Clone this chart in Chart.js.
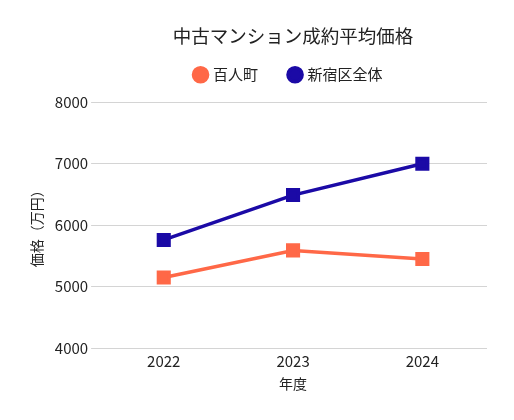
<!DOCTYPE html>
<html><head><meta charset="utf-8">
<script src="https://cdn.jsdelivr.net/npm/chart.js@4"></script>
<style>html,body{margin:0;padding:0;background:#fff}#wrap{width:514px;height:420px}</style>
</head><body><div id="wrap"><canvas id="c"></canvas></div>
<script>
const years = ['2022', '2023', '2024'];
const hyakuninchoValues = [5150, 5590, 5450];
const shinjukuValues = [5760, 6490, 7000];
const seriesNames = ['百人町', '新宿区全体'];
const titleText = '中古マンション成約平均価格';
const yTitle = '価格（万円）';
const xTitle = '年度';

const centerOverArea = {
  id: 'centerOverArea',
  afterLayout(chart) {
    const a = chart.chartArea;
    const t = chart.titleBlock;
    if (t) { t.left = a.left; t.right = a.right; t.width = a.right - a.left; }
    const l = chart.legend;
    if (l) {
      l.left = a.left - 4; l.right = a.right - 4; l.width = a.right - a.left;
      l.top -= 10; l.bottom -= 10;
    }
  }
};

Chart.defaults.font.family = '"Noto Sans CJK JP", "Noto Sans", sans-serif';
Chart.defaults.color = '#222';
new Chart(document.getElementById('c'), {
  type: 'line',
  data: {
    labels: years,
    datasets: [
      {label: seriesNames[0], data: hyakuninchoValues, borderColor: '#ff6847', backgroundColor: '#ff6847',
       borderWidth: 3.5, pointStyle: 'rect', pointRadius: 7.5, pointHoverRadius: 7.5},
      {label: seriesNames[1], data: shinjukuValues, borderColor: '#1b0aa6', backgroundColor: '#1b0aa6',
       borderWidth: 3.5, pointStyle: 'rect', pointRadius: 7.5, pointHoverRadius: 7.5}
    ]
  },
  options: {
    responsive: true, maintainAspectRatio: false, animation: false,
    layout: {padding: {left: 24, right: 27, top: 10, bottom: 26}},
    plugins: {
      title: {display: true, text: titleText, font: {size: 18.5, weight: 'normal'}, color: '#222', padding: {top: 15, bottom: -2}},
      legend: {labels: {usePointStyle: true, pointStyle: 'circle', boxWidth: 10, boxHeight: 10, font: {size: 15}, padding: 32, color: '#222'}},
      tooltip: {enabled: false}
    },
    scales: {
      x: {offset: true, grid: {display: false, drawTicks: false}, border: {display: false},
          ticks: {font: {size: 15}, color: '#222', padding: 4},
          title: {display: true, text: xTitle, font: {size: 14}, color: '#222', padding: {top: 1, bottom: 2}}},
      y: {min: 4000, max: 8000, grid: {color: '#d4d4d4', tickLength: 8}, border: {display: false},
          ticks: {stepSize: 1000, font: {size: 15}, color: '#222', padding: 3, callback: v => String(v)},
          title: {display: true, text: yTitle, font: {size: 14}, color: '#222', padding: {top: 4, bottom: 7}}}
    }
  },
  plugins: [centerOverArea]
});
</script></body></html>
